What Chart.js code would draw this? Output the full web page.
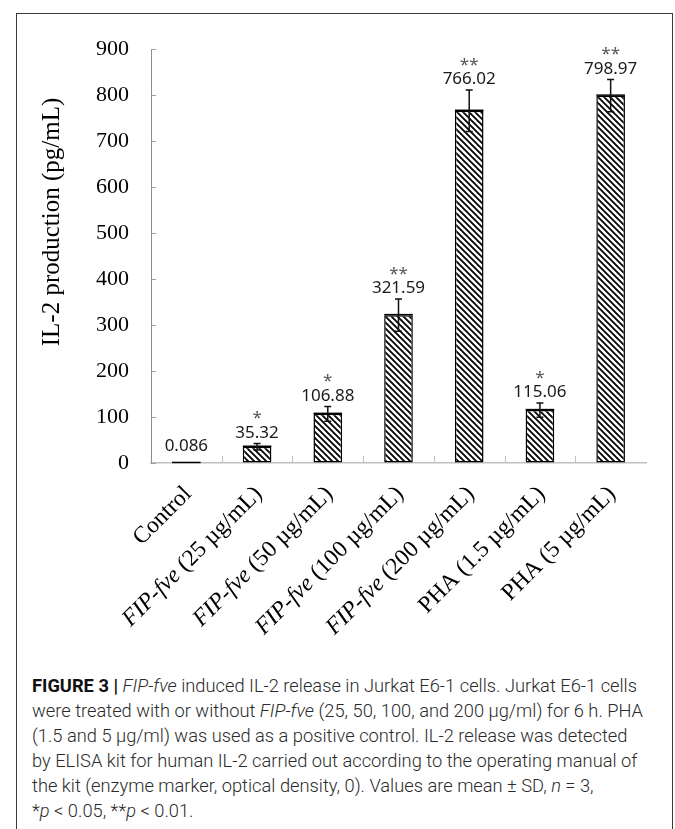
<!DOCTYPE html>
<html>
<head>
<meta charset="utf-8">
<script src="https://cdn.jsdelivr.net/npm/chart.js@4"></script>
<style>
    body { margin: 0; background: #fff; }
    #frame {
        position: absolute; left: 16px; top: 13px; width: 655px; height: 900px;
        border: 1.5px solid #3a3a3a;
    }
    #il2-chart { position: absolute; left: 17px; top: 14px; }
    #caption {
        position: absolute; left: 32px; top: 673px;
        font-family: "Roboto", sans-serif; font-weight: 300;
        font-size: 18.3px; line-height: 25px; color: #2a2a2a; white-space: nowrap;
    }
    #caption b { color: #111; font-weight: 700; }
</style>
</head>
<body>
<div id="frame"></div>
<canvas id="il2-chart" width="655" height="630"></canvas>
<div id="caption">
<b>FIGURE 3 |</b> <i>FIP-fve</i> induced IL-2 release in Jurkat E6-1 cells. Jurkat E6-1 cells<br>
were treated with or without <i>FIP-fve</i> (25, 50, 100, and 200 μg/ml) for 6 h. PHA<br>
(1.5 and 5 μg/ml) was used as a positive control. IL-2 release was detected<br>
by ELISA kit for human IL-2 carried out according to the operating manual of<br>
the kit (enzyme marker, optical density, 0). Values are mean ± SD, <i>n</i> = 3,<br>
*<i>p</i> &lt; 0.05, **<i>p</i> &lt; 0.01.
</div>
<script>
// data
const categories = ['Control', 'FIP-fve (25 µg/mL)', 'FIP-fve (50 µg/mL)', 'FIP-fve (100 µg/mL)',
    'FIP-fve (200 µg/mL)', 'PHA (1.5 µg/mL)', 'PHA (5 µg/mL)'];
const il2Values = [0.086, 35.32, 106.88, 321.59, 766.02, 115.06, 798.97];
const il2Sd = [0, 7, 16, 35, 45, 15.5, 35];
const stars = ['', '*', '*', '**', '**', '*', '**'];
const valueLabels = ['0.086', '35.32', '106.88', '321.59', '766.02', '115.06', '798.97'];
const yTicks = [0, 100, 200, 300, 400, 500, 600, 700, 800, 900];

const serif = '"Liberation Serif", "Times New Roman", serif';
const sans = '"Noto Sans", sans-serif';

// diagonal hatch fill
function makeHatch() {
    const s = 6;
    const c = document.createElement('canvas');
    c.width = s; c.height = s;
    const g = c.getContext('2d');
    g.fillStyle = '#fff';
    g.fillRect(0, 0, s, s);
    g.strokeStyle = '#000';
    g.lineWidth = 1.8;
    g.beginPath();
    g.moveTo(-1, -1); g.lineTo(s + 1, s + 1);
    g.moveTo(-1, s - 1); g.lineTo(1, s + 1);
    g.moveTo(s - 1, -1); g.lineTo(s + 1, 1);
    g.stroke();
    return g.createPattern(c, 'repeat');
}

const extrasPlugin = {
    id: 'extras',
    afterDatasetsDraw(chart) {
        const ctx = chart.ctx;
        const x = chart.scales.x, y = chart.scales.y;
        const area = chart.chartArea;
        const meta = chart.getDatasetMeta(0);
        ctx.save();

        // inside tick marks
        ctx.strokeStyle = '#a0a0a0';
        ctx.lineWidth = 1;
        yTicks.forEach(v => {
            const py = Math.round(y.getPixelForValue(v)) + 0.5;
            ctx.beginPath();
            ctx.moveTo(area.left, py);
            ctx.lineTo(area.left + 5, py);
            ctx.stroke();
        });
        ctx.strokeStyle = '#c0c0c0';
        for (let i = 1; i < categories.length; i++) {
            const px = Math.round((x.getPixelForTick(i - 1) + x.getPixelForTick(i)) / 2) + 0.5;
            ctx.beginPath();
            ctx.moveTo(px, area.bottom);
            ctx.lineTo(px, area.bottom - 7);
            ctx.stroke();
        }

        // error bars, value labels, stars
        meta.data.forEach((bar, i) => {
            // outline top of each bar (keeps the near-zero control visible)
            ctx.strokeStyle = '#000';
            ctx.lineWidth = 1.5;
            ctx.beginPath();
            ctx.moveTo(bar.x - bar.width / 2, bar.y - 0.5);
            ctx.lineTo(bar.x + bar.width / 2, bar.y - 0.5);
            ctx.stroke();

            const top = il2Values[i] + il2Sd[i];
            const yTop = y.getPixelForValue(top);
            if (il2Sd[i] > 0) {
                const yBot = y.getPixelForValue(il2Values[i] - il2Sd[i]);
                ctx.strokeStyle = '#111';
                ctx.lineWidth = 1.5;
                ctx.beginPath();
                ctx.moveTo(bar.x, yTop);
                ctx.lineTo(bar.x, yBot);
                ctx.moveTo(bar.x - 3.5, yTop);
                ctx.lineTo(bar.x + 3.5, yTop);
                ctx.moveTo(bar.x - 3.5, yBot);
                ctx.lineTo(bar.x + 3.5, yBot);
                ctx.stroke();
            }
            const base = il2Sd[i] > 0 ? yTop - 6 : yTop - 12;
            ctx.fillStyle = '#1a1a1a';
            ctx.font = '17px ' + sans;
            ctx.textAlign = 'center';
            ctx.textBaseline = 'alphabetic';
            ctx.fillText(valueLabels[i], bar.x, base);
            if (stars[i]) {
                ctx.fillStyle = '#555';
                ctx.font = '17px ' + sans;
                ctx.textBaseline = 'middle';
                ctx.fillText(stars[i], bar.x, base - 19);
            }
        });

        // rotated category labels, FIP-fve in italics
        const fs = '23.5px ';
        categories.forEach((lab, i) => {
            const cx = x.getPixelForTick(i);
            let ital = '', rest = lab;
            if (lab.startsWith('FIP-fve')) { ital = 'FIP-fve'; rest = lab.slice(7); }
            ctx.save();
            ctx.translate(cx + 6, area.bottom + 32);
            ctx.rotate(-Math.PI / 4);
            ctx.fillStyle = '#000';
            ctx.textBaseline = 'alphabetic';
            ctx.textAlign = 'left';
            ctx.font = 'italic ' + fs + serif;
            const wi = ital ? ctx.measureText(ital).width : 0;
            ctx.font = fs + serif;
            const wr = ctx.measureText(rest).width;
            let px = -(wi + wr);
            if (ital) {
                ctx.font = 'italic ' + fs + serif;
                ctx.fillText(ital, px, 0);
                px += wi;
            }
            ctx.font = fs + serif;
            ctx.fillText(rest, px, 0);
            ctx.restore();
        });

        // y axis title
        ctx.save();
        ctx.translate(35, 208);
        ctx.rotate(-Math.PI / 2);
        ctx.fillStyle = '#000';
        ctx.font = '25px ' + serif;
        ctx.textAlign = 'center';
        ctx.textBaseline = 'middle';
        ctx.fillText('IL-2 production (pg/mL)', 0, 0);
        ctx.restore();

        ctx.restore();
    }
};

function createIl2Chart() {
    const ctx = document.getElementById('il2-chart');
    new Chart(ctx, {
        type: 'bar',
        data: {
            labels: categories,
            datasets: [{
                data: il2Values,
                backgroundColor: makeHatch(),
                borderColor: '#000',
                borderWidth: 1.5,
                borderSkipped: false,
                barPercentage: 0.405,
                categoryPercentage: 1
            }]
        },
        options: {
            responsive: false,
            animation: false,
            layout: { padding: { top: 23, right: 26, left: 0, bottom: 0 } },
            plugins: {
                legend: { display: false },
                tooltip: { enabled: false }
            },
            scales: {
                x: {
                    offset: true,
                    grid: { display: true, drawOnChartArea: false, drawTicks: false, color: '#c0c0c0' },
                    border: { display: true, color: '#c0c0c0', width: 1.5 },
                    ticks: { display: false },
                    afterFit: s => { s.height = 181; }
                },
                y: {
                    min: 0,
                    max: 900,
                    afterBuildTicks: s => { s.ticks = yTicks.map(v => ({ value: v })); },
                    grid: { drawOnChartArea: false, drawTicks: false },
                    border: { display: true, color: '#8c8c8c', width: 1 },
                    ticks: {
                        padding: 22,
                        color: '#000',
                        font: { family: serif, size: 22 }
                    },
                    afterFit: s => { s.width = 134; }
                }
            }
        },
        plugins: [extrasPlugin]
    });
}

createIl2Chart();
</script>
</body>
</html>
